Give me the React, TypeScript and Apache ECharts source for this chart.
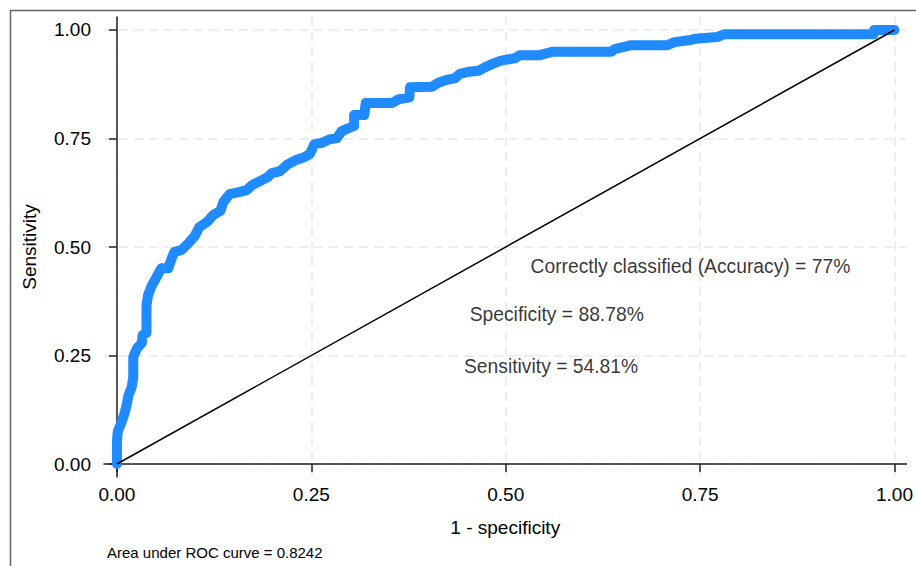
import React, { useEffect, useRef } from "react";
import * as echarts from "echarts";

// ROC curve vertices: [1 - specificity, sensitivity]
const rocX: number[] = [
  0, 0, 0.001, 0.006, 0.010, 0.013, 0.015, 0.019, 0.021, 0.021,
  0.026, 0.032, 0.033, 0.038, 0.038, 0.040, 0.045, 0.051, 0.057, 0.066,
  0.070, 0.074, 0.083, 0.091, 0.100, 0.106, 0.116, 0.124, 0.133, 0.137,
  0.145, 0.158, 0.167, 0.174, 0.183, 0.194, 0.199, 0.209, 0.220, 0.231,
  0.241, 0.248, 0.254, 0.264, 0.273, 0.283, 0.289, 0.298, 0.305, 0.305,
  0.318, 0.320, 0.354, 0.362, 0.376, 0.377, 0.405, 0.414, 0.424, 0.435,
  0.441, 0.453, 0.465, 0.473, 0.483, 0.493, 0.499, 0.512, 0.518, 0.544,
  0.552, 0.561, 0.636, 0.640, 0.655, 0.661, 0.708, 0.717, 0.738, 0.744,
  0.772, 0.781, 0.973, 0.974, 1.0,
];
const rocY: number[] = [
  0, 0.053, 0.074, 0.097, 0.118, 0.141, 0.159, 0.177, 0.201, 0.247,
  0.267, 0.279, 0.297, 0.302, 0.366, 0.389, 0.412, 0.431, 0.451, 0.451,
  0.472, 0.489, 0.493, 0.507, 0.525, 0.546, 0.558, 0.574, 0.583, 0.604,
  0.622, 0.627, 0.631, 0.643, 0.651, 0.661, 0.670, 0.674, 0.691, 0.701,
  0.707, 0.714, 0.737, 0.740, 0.748, 0.751, 0.767, 0.774, 0.779, 0.804,
  0.804, 0.832, 0.832, 0.840, 0.845, 0.868, 0.869, 0.879, 0.885, 0.889,
  0.899, 0.904, 0.906, 0.914, 0.922, 0.929, 0.931, 0.935, 0.942, 0.942,
  0.946, 0.950, 0.950, 0.956, 0.962, 0.965, 0.965, 0.972, 0.977, 0.980,
  0.984, 0.990, 0.990, 1.0, 1.0,
];

// Reference (chance) line
const diagX: number[] = [0, 1];
const diagY: number[] = [0, 1];

// Axis tick labels
const tickValues: number[] = [0, 0.25, 0.5, 0.75, 1];

// Annotations (text, x, y in data coordinates)
const annotationTexts: string[] = [
  "Correctly classified (Accuracy) = 77%",
  "Specificity = 88.78%",
  "Sensitivity = 54.81%",
];
const annotationX: number[] = [0.7375, 0.5656, 0.5583];
const annotationY: number[] = [0.456, 0.3456, 0.2258];

const aucNote = "Area under ROC curve = 0.8242";
const xTitle = "1 - specificity";
const yTitle = "Sensitivity";

const FONT = "'Liberation Sans', Arial, Helvetica, sans-serif";

export default function App() {
  const ref = useRef<HTMLDivElement>(null);

  useEffect(() => {
    if (!ref.current) return;
    const chart = echarts.init(ref.current, null, { renderer: "svg" });

    const rocData = rocX.map((x, i) => [x, rocY[i]]);
    const diagData = diagX.map((x, i) => [x, diagY[i]]);
    const annData = annotationTexts.map((t, i) => ({
      name: t,
      value: [annotationX[i], annotationY[i]],
    }));

    const axisCommon = {
      type: "value" as const,
      axisLine: { show: true, lineStyle: { color: "#222", width: 1.5 } },
      axisTick: {
        show: true,
        inside: false,
        length: 8,
        customValues: tickValues,
        lineStyle: { color: "#222", width: 1.5 },
      },
      splitLine: {
        show: true,
        lineStyle: { color: "#e9e9e9", width: 1.5, type: [9, 6] },
      },
      nameLocation: "middle" as const,
      nameTextStyle: { fontFamily: FONT, fontSize: 19, color: "#000" },
    };

    chart.setOption({
      animation: false,
      backgroundColor: "#fff",
      grid: { left: 104, top: 17, width: 806, height: 460, containLabel: false },
      xAxis: {
        ...axisCommon,
        min: -0.01665,
        max: 1.01537,
        name: xTitle,
        nameGap: 41,
        axisLabel: {
          show: true,
          margin: 8,
          customValues: tickValues,
          formatter: (v: number) => v.toFixed(2),
          fontFamily: FONT,
          fontSize: 19,
          color: "#000",
        },
      },
      yAxis: {
        ...axisCommon,
        min: -0.02995,
        max: 1.02995,
        name: yTitle,
        nameGap: 65,
        axisLabel: {
          show: true,
          margin: 13,
          customValues: tickValues,
          formatter: (v: number) => v.toFixed(2),
          fontFamily: FONT,
          fontSize: 19,
          color: "#000",
        },
      },
      series: [
        {
          type: "line",
          data: rocData,
          showSymbol: false,
          symbol: "none",
          lineStyle: { color: "#1f8bff", width: 10, cap: "round", join: "round" },
          z: 2,
        },
        {
          type: "line",
          data: diagData,
          showSymbol: false,
          symbol: "none",
          lineStyle: { color: "#000", width: 1.5 },
          z: 3,
        },
        {
          type: "scatter",
          data: annData,
          symbolSize: 0,
          z: 4,
          label: {
            show: true,
            position: "inside",
            formatter: (p: any) => p.name,
            fontFamily: FONT,
            fontSize: 19.3,
            color: "#000",
            align: "center",
            verticalAlign: "middle",
          },
        },
      ],
      graphic: [
        {
          type: "rect",
          silent: true,
          shape: { x: 10.5, y: 10.5, width: 2000, height: 2000 },
          style: { fill: "none", stroke: "#666", lineWidth: 1.5 },
        },
        {
          type: "text",
          left: 107,
          top: 545,
          style: {
            text: aucNote,
            fontFamily: FONT,
            fontSize: 15,
            fill: "#000",
          },
        },
      ],
    });

    return () => chart.dispose();
  }, []);

  return (
    <div
      ref={ref}
      style={{ position: "fixed", left: 0, top: 0, width: 916, height: 566 }}
    />
  );
}
